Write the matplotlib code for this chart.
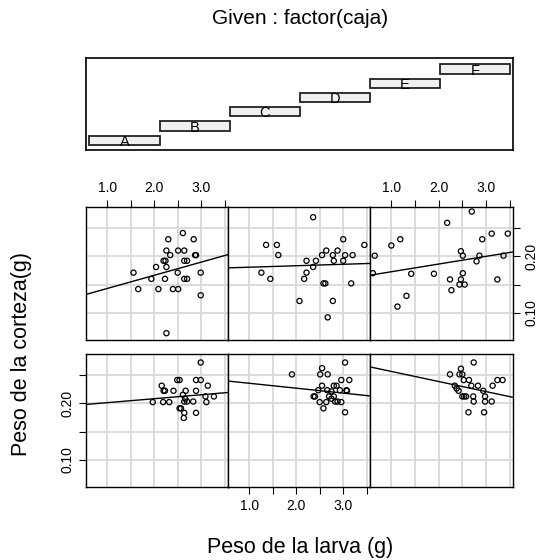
import matplotlib
matplotlib.use('Agg')
import matplotlib.pyplot as plt
import numpy as np

plt.rcParams['font.family'] = ['Liberation Sans', 'DejaVu Sans']

# factor levels of "caja"
levels = ['A', 'B', 'C', 'D', 'E', 'F']

# Peso de la larva (x) / Peso de la corteza (y) per caja
larva_A = [2.99, 2.49, 2.54, 2.89, 2.99, 2.16, 3.14, 2.20, 2.23, 2.41, 2.67, 2.89, 2.61, 3.09,
           3.27, 2.66, 1.97, 2.19, 2.32, 2.64, 2.70, 2.83, 3.11, 2.54, 2.57, 2.64, 2.89, 2.63]
corteza_A = [0.272, 0.241, 0.241, 0.241, 0.241, 0.231, 0.231, 0.222, 0.222, 0.222, 0.222, 0.222,
             0.215, 0.212, 0.212, 0.208, 0.202, 0.202, 0.202, 0.203, 0.203, 0.203, 0.202, 0.191,
             0.191, 0.183, 0.183, 0.174]

larva_B = [3.04, 2.55, 1.91, 2.51, 2.67, 2.96, 3.13, 2.55, 2.80, 2.86, 2.47, 2.66, 2.75, 2.93,
           3.07, 3.08, 2.37, 2.40, 2.70, 2.80, 2.75, 2.83, 2.88, 2.50, 2.64, 2.96, 2.58, 3.04]
corteza_B = [0.272, 0.262, 0.251, 0.251, 0.251, 0.241, 0.241, 0.231, 0.231, 0.231, 0.223, 0.223,
             0.221, 0.223, 0.223, 0.222, 0.212, 0.212, 0.212, 0.212, 0.208, 0.203, 0.203, 0.202,
             0.202, 0.202, 0.191, 0.184]

larva_C = [2.74, 2.47, 2.24, 2.44, 2.50, 2.53, 2.64, 3.24, 3.35, 2.34, 2.69, 2.83, 3.14, 2.38,
           2.42, 2.94, 2.98, 2.50, 2.54, 2.58, 2.73, 2.74, 2.98, 3.12, 2.63, 2.96]
corteza_C = [0.272, 0.261, 0.251, 0.251, 0.251, 0.241, 0.241, 0.241, 0.241, 0.231, 0.231, 0.231,
             0.231, 0.226, 0.222, 0.222, 0.212, 0.212, 0.212, 0.212, 0.212, 0.203, 0.203, 0.203,
             0.184, 0.184]

larva_D = [2.61, 2.30, 2.84, 2.26, 2.51, 2.64, 2.34, 2.89, 2.87, 2.20, 2.24, 2.64, 2.70, 2.04,
           2.26, 1.56, 2.50, 2.99, 1.94, 2.23, 2.64, 2.70, 1.66, 2.09, 2.40, 2.51, 2.99, 2.26]
corteza_D = [0.241, 0.230, 0.230, 0.210, 0.210, 0.210, 0.202, 0.202, 0.202, 0.192, 0.192, 0.192,
             0.192, 0.181, 0.181, 0.171, 0.171, 0.171, 0.160, 0.160, 0.160, 0.160, 0.142, 0.142,
             0.142, 0.142, 0.131, 0.064]

larva_E = [2.36, 3.00, 3.45, 1.36, 1.59, 2.64, 2.88, 1.62, 2.55, 2.78, 3.04, 3.20, 2.22, 2.42,
           2.80, 3.00, 2.36, 1.26, 2.22, 1.45, 2.17, 2.58, 2.62, 3.17, 2.07, 2.78, 2.67]
corteza_E = [0.269, 0.230, 0.220, 0.220, 0.220, 0.210, 0.210, 0.202, 0.202, 0.202, 0.202, 0.202,
             0.192, 0.192, 0.192, 0.192, 0.181, 0.171, 0.171, 0.160, 0.160, 0.152, 0.152, 0.152,
             0.121, 0.121, 0.092]

larva_F = [2.70, 2.18, 3.12, 3.46, 1.19, 2.92, 1.00, 2.47, 0.65, 2.51, 2.86, 3.37, 2.80, 0.61,
           1.42, 1.90, 2.51, 2.24, 2.47, 3.24, 2.44, 2.55, 2.27, 1.32, 1.13]
corteza_F = [0.279, 0.259, 0.240, 0.240, 0.230, 0.230, 0.219, 0.209, 0.201, 0.201, 0.201, 0.201,
             0.191, 0.170, 0.169, 0.169, 0.170, 0.159, 0.159, 0.159, 0.150, 0.150, 0.140, 0.130,
             0.111]

# fitted lines (intercept, slope)
intercepts = [0.194, 0.244, 0.274, 0.1197, 0.178, 0.159]
slopes = [0.0070, -0.0087, -0.0178, 0.0233, 0.0026, 0.0136]

larva = [larva_A, larva_B, larva_C, larva_D, larva_E, larva_F]
corteza = [corteza_A, corteza_B, corteza_C, corteza_D, corteza_E, corteza_F]

x_ticks = [1.0, 1.5, 2.0, 2.5, 3.0, 3.5]
x_labels = ['1.0', '', '2.0', '', '3.0', '']
y_ticks = [0.10, 0.15, 0.20, 0.25]
y_labels = ['0.10', '', '0.20', '']

W, H = 541, 560
fig = plt.figure(figsize=(W / 100, H / 100), dpi=100)


def rect(x0, y0, x1, y1):
    return [x0 / W, 1 - y1 / H, (x1 - x0) / W, (y1 - y0) / H]


cols = [(86, 228), (228, 370), (370, 513)]
rows = [(354, 487), (207, 340)]  # bottom row first (A,B,C), then top (D,E,F)

for i in range(6):
    r, c = divmod(i, 3)
    ax = fig.add_axes(rect(cols[c][0], rows[r][0], cols[c][1], rows[r][1]))
    ax.set_xlim(0.55, 3.57)
    ax.set_ylim(0.052, 0.287)
    for t in x_ticks:
        ax.axvline(t, color='#d9d9d9', lw=1.3, zorder=0)
    for t in y_ticks:
        ax.axhline(t, color='#d9d9d9', lw=1.3, zorder=0)
    ax.scatter(larva[i], corteza[i], s=14, facecolors='none', edgecolors='black',
               linewidths=0.9, zorder=3)
    xx = np.array([0.0, 4.0])
    ax.plot(xx, intercepts[i] + slopes[i] * xx, color='black', lw=1, zorder=2)
    for s in ax.spines.values():
        s.set_linewidth(1)
    ax.set_xticks(x_ticks)
    ax.set_yticks(y_ticks)
    ax.tick_params(direction='out', length=5, width=0.8, labelsize=10, pad=3.5)
    ax.tick_params(axis='y', labelrotation=90)
    # x axis: top for columns 1 and 3 of top row, bottom for column 2 of bottom row
    show_top = (r == 1 and c in (0, 2))
    show_bottom = (r == 0 and c == 1)
    ax.tick_params(axis='x', top=show_top, labeltop=show_top,
                   bottom=show_bottom, labelbottom=show_bottom)
    if show_top or show_bottom:
        ax.set_xticklabels(x_labels)
    show_left = (r == 0 and c == 0)
    show_right = (r == 1 and c == 2)
    ax.tick_params(axis='y', left=show_left, labelleft=show_left,
                   right=show_right, labelright=show_right)
    if show_left or show_right:
        ax.set_yticklabels(y_labels, va='center')

# given panel
gax = fig.add_axes(rect(86, 58, 513, 150))
gax.set_xlim(0.452, 6.54)
gax.set_ylim(0.32, 6.77)
gax.set_xticks([])
gax.set_yticks([])
for s in gax.spines.values():
    s.set_linewidth(1.2)
for k, lab in enumerate(levels):
    lvl = k + 1
    gax.bar(lvl, 0.64, width=1.0, bottom=lvl - 0.32, color='#f0f0f0',
            edgecolor='#222222', linewidth=1.3)
    gax.text(lvl, lvl - 0.12, lab, ha='center', va='center', fontsize=10.5)

fig.text(300 / W, 1 - 19 / H, 'Given : factor(caja)', ha='center', va='center', fontsize=15)
fig.text(300 / W, 1 - 547 / H, 'Peso de la larva (g)', ha='center', va='center', fontsize=15.5)
fig.text(22 / W, 1 - 354 / H, 'Peso de la corteza(g)', ha='center', va='center',
         rotation=90, fontsize=15.5)

fig.savefig('out.png', dpi=100)
